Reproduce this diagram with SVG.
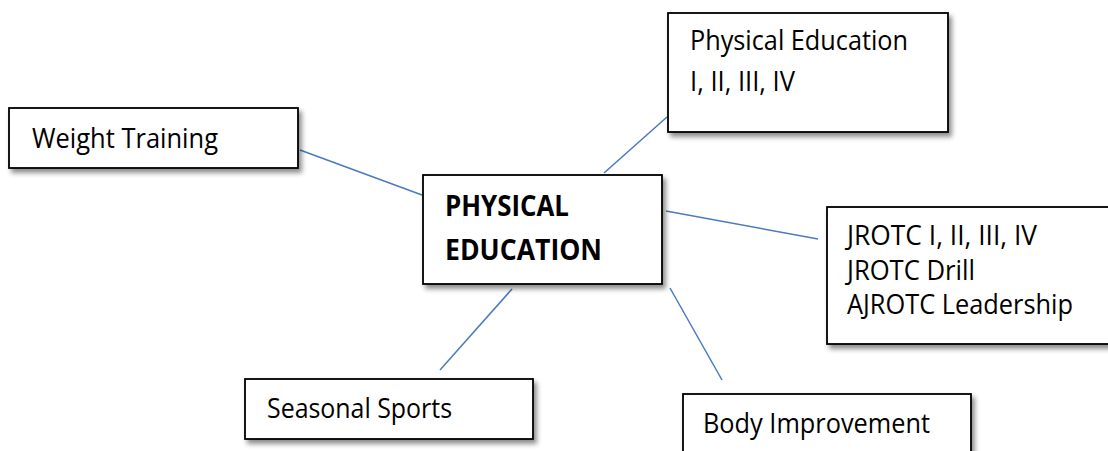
<svg xmlns="http://www.w3.org/2000/svg" width="1108" height="451" viewBox="0 0 1108 451">
<defs>
<filter id="sh" x="-10%" y="-20%" width="130%" height="150%">
<feDropShadow dx="3" dy="4" stdDeviation="2.5" flood-color="#000" flood-opacity="0.45"/>
</filter>
</defs>
<style>
.box{fill:#fff;stroke:#000;stroke-width:1.8;filter:url(#sh)}
.t{font-family:"Open Sans","Noto Sans","Liberation Sans",sans-serif;font-size:27px;fill:#000}
.b{font-weight:bold;font-size:28px}
.c{stroke:#4a7ac0;stroke-width:1.5;fill:none}
</style>
<rect width="1108" height="451" fill="#fff"/>
<g id="connectors">
<line class="c" x1="300" y1="150" x2="422" y2="195"/>
<line class="c" x1="604" y1="173" x2="667" y2="117"/>
<line class="c" x1="666" y1="211" x2="818" y2="239"/>
<line class="c" x1="512" y1="289" x2="440" y2="370"/>
<line class="c" x1="670" y1="288" x2="722" y2="380"/>
</g>
<g id="weight">
<rect class="box" x="9" y="108" width="289" height="60"/>
<text class="t" x="32" y="148" textLength="186" lengthAdjust="spacingAndGlyphs">Weight Training</text>
</g>
<g id="center">
<rect class="box" x="423" y="175" width="239" height="109"/>
<text class="t b" x="445" y="216" textLength="124" lengthAdjust="spacingAndGlyphs">PHYSICAL</text>
<text class="t b" x="445" y="260" textLength="157" lengthAdjust="spacingAndGlyphs">EDUCATION</text>
</g>
<g id="pe">
<rect class="box" x="668" y="13" width="280" height="119"/>
<text class="t" x="690" y="50" textLength="218" lengthAdjust="spacingAndGlyphs">Physical Education</text>
<text class="t" x="690" y="91" textLength="105" lengthAdjust="spacingAndGlyphs">I, II, III, IV</text>
</g>
<g id="jrotc">
<rect class="box" x="827" y="207" width="290" height="137"/>
<text class="t" x="847" y="245" textLength="190" lengthAdjust="spacingAndGlyphs">JROTC I, II, III, IV</text>
<text class="t" x="847" y="280" textLength="128" lengthAdjust="spacingAndGlyphs">JROTC Drill</text>
<text class="t" x="847" y="314" textLength="226" lengthAdjust="spacingAndGlyphs">AJROTC Leadership</text>
</g>
<g id="seasonal">
<rect class="box" x="245" y="379" width="288" height="60"/>
<text class="t" x="267" y="418" textLength="185" lengthAdjust="spacingAndGlyphs">Seasonal Sports</text>
</g>
<g id="body">
<rect class="box" x="683" y="394" width="288" height="70"/>
<text class="t" x="703" y="433" textLength="227" lengthAdjust="spacingAndGlyphs">Body Improvement</text>
</g>
</svg>
